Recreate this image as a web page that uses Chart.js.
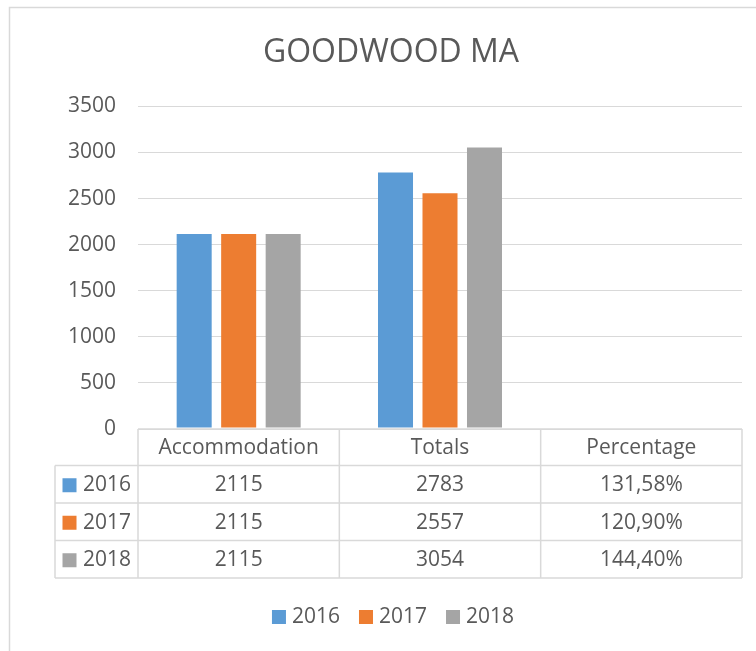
<!DOCTYPE html>
<html>
<head>
<meta charset="utf-8">
<script src="https://cdn.jsdelivr.net/npm/chart.js@4"></script>
<style>
  html, body { margin:0; padding:0; background:#fff; }
  #wrap { width:756px; height:651px; }
</style>
</head>
<body>
<div id="wrap"><canvas id="chart" width="756" height="651"></canvas></div>
<script>
// Datos
const categories = ['Accommodation', 'Totals', 'Percentage'];
const years = ['2016', '2017', '2018'];
const values2016 = [2115, 2783, 1.3158];
const values2017 = [2115, 2557, 1.2090];
const values2018 = [2115, 3054, 1.4440];
const yTicks = [0, 500, 1000, 1500, 2000, 2500, 3000, 3500];

const colors = ['#5b9bd5', '#ed7d31', '#a5a5a5'];
const TEXT = '#595959';
const LINE = '#d9d9d9';
const FONT = '"Open Sans", sans-serif';

// formato de celda: la columna de porcentaje va con coma decimal
function fmt(v, col){
  if(categories[col] === 'Percentage') return (v*100).toFixed(2).replace('.', ',') + '%';
  return String(Math.round(v));
}

// tabla de datos + leyenda + marco, dibujados a partir de las escalas
const tablePlugin = {
  id: 'dataTable',
  beforeDraw(chart){
    const ctx = chart.ctx;
    ctx.save();
    ctx.strokeStyle = LINE; ctx.lineWidth = 1.5;
    ctx.strokeRect(9.5, 7.5, 800, 700);
    ctx.restore();
  },
  afterDraw(chart){
    const ctx = chart.ctx;
    const xs = chart.scales.x;
    const n = categories.length;
    const cw = (xs.right - xs.left) / n;
    const top = chart.chartArea.bottom;
    const rows = [top, top + 36.5, top + 74, top + 111.5, top + 149];
    const left = 55;
    const colX = [left];
    for(let i=0;i<=n;i++) colX.push(xs.getPixelForValue(0) - cw/2 + i*cw);

    ctx.save();
    // tapar el resto de barras casi nulas (Percentage) bajo la línea base
    ctx.fillStyle = '#fff';
    ctx.fillRect(colX[1], top - 1.5, colX[n+1] - colX[1], 1.5);
    ctx.strokeStyle = LINE; ctx.lineWidth = 1.5;
    ctx.beginPath();
    // líneas horizontales
    ctx.moveTo(colX[1], rows[0]); ctx.lineTo(colX[n+1], rows[0]);
    for(let r=1;r<rows.length;r++){ ctx.moveTo(left, rows[r]); ctx.lineTo(colX[n+1], rows[r]); }
    // líneas verticales
    ctx.moveTo(left, rows[1]); ctx.lineTo(left, rows[4]);
    for(let i=1;i<colX.length;i++){ ctx.moveTo(colX[i], rows[0]); ctx.lineTo(colX[i], rows[4]); }
    ctx.stroke();

    ctx.font = '21px ' + FONT;
    ctx.fillStyle = TEXT;
    ctx.textBaseline = 'middle';
    ctx.textAlign = 'center';
    categories.forEach((c,i)=> ctx.fillText(c, xs.getPixelForValue(i), (rows[0]+rows[1])/2 + 1));

    chart.data.datasets.forEach((ds, r)=>{
      const cy = (rows[r+1] + rows[r+2]) / 2 + 1;
      ctx.fillStyle = ds.backgroundColor;
      ctx.fillRect(62.5, cy - 7, 14, 14);
      ctx.fillStyle = TEXT;
      ctx.textAlign = 'left';
      ctx.fillText(ds.label, 83, cy);
      ctx.textAlign = 'center';
      ds.data.forEach((v,i)=> ctx.fillText(fmt(v,i), xs.getPixelForValue(i), cy));
    });

    // leyenda inferior
    const items = chart.data.datasets.map(ds => ({ label: ds.label, color: ds.backgroundColor, w: 14 + 6 + ctx.measureText(ds.label).width }));
    const gap = 19;
    const total = items.reduce((s,it)=> s + it.w, 0) + gap*(items.length-1);
    let x = 393 - total/2;
    const ly = 617;
    ctx.textAlign = 'left';
    for(const it of items){
      ctx.fillStyle = it.color;
      ctx.fillRect(x, ly - 7, 14, 14);
      ctx.fillStyle = TEXT;
      ctx.fillText(it.label, x + 20, ly);
      x += it.w + gap;
    }
    ctx.restore();
  }
};

const seriesValues = [values2016, values2017, values2018];

new Chart(document.getElementById('chart'), {
  type: 'bar',
  data: {
    labels: categories,
    datasets: years.map((y,i)=>({
      label: y,
      data: seriesValues[i],
      backgroundColor: colors[i],
      categoryPercentage: 0.663,
      barPercentage: 0.787
    }))
  },
  options: {
    responsive: false,
    animation: false,
    layout: { padding: { left: 40, right: 14, top: 0, bottom: 0 } },
    plugins: {
      legend: { display: false },
      tooltip: { enabled: false },
      title: {
        display: true,
        text: 'GOODWOOD MA',
        color: TEXT,
        font: { family: FONT, size: 32, weight: 'normal' },
        padding: { top: 34, bottom: 34 }
      }
    },
    scales: {
      x: {
        ticks: { display: false },
        grid: { display: false },
        border: { display: false },
        afterFit(scale){ scale.height = 222; }
      },
      y: {
        min: 0, max: 3500,
        afterBuildTicks(scale){ scale.ticks = yTicks.map(v => ({ value: v })); },
        ticks: { color: TEXT, font: { family: FONT, size: 21 }, padding: 22, callback: v => String(v) },
        grid: { color: LINE, lineWidth: 1, drawTicks: false },
        border: { display: false },
        afterFit(scale){ scale.width = 98; }
      }
    }
  },
  plugins: [tablePlugin]
});
</script>
</body>
</html>
